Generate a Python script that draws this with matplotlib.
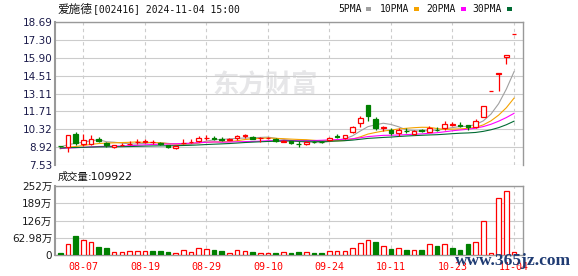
import matplotlib
matplotlib.use('Agg')
import matplotlib.pyplot as plt
import numpy as np
from matplotlib.patches import Rectangle

# ---------------- data ----------------
dates_ticks = ['08-07', '08-19', '08-29', '09-10', '09-24', '10-11', '10-23', '11-04']
date_tick_idx = [3, 11, 19, 27, 35, 43, 51, 59]

prior_closes = [8.95, 8.98, 9.02, 8.96, 8.90, 8.93, 8.97, 8.92, 8.88, 8.85,
                8.90, 8.94, 8.86, 8.80, 8.78, 8.82, 8.85, 8.80, 8.76, 8.72,
                8.70, 8.74, 8.68, 8.65, 8.70, 8.78, 8.84, 8.92, 9.03]

opens = [9.02, 8.93, 9.95, 9.14, 9.14, 9.53, 9.25, 8.95, 9.10, 9.17,
         9.30, 9.30, 9.29, 9.27, 9.09, 8.83, 9.25, 9.33, 9.43, 9.64,
         9.64, 9.56, 9.50, 9.64, 9.82, 9.74, 9.60, 9.63, 9.56, 9.36,
         9.38, 9.20, 9.14, 9.36, 9.35, 9.45, 9.76, 9.61, 10.08, 10.78,
         12.21, 11.10, 10.44, 10.30, 10.00, 10.18, 9.95, 10.24, 10.13, 10.28,
         10.39, 10.68, 10.66, 10.63, 10.47, 11.30, 13.34, 14.67, 15.92, 17.75]
closes = [8.98, 9.87, 9.27, 9.46, 9.53, 9.38, 9.08, 9.10, 9.12, 9.20,
          9.33, 9.40, 9.31, 9.14, 8.91, 9.04, 9.28, 9.36, 9.63, 9.67,
          9.54, 9.46, 9.53, 9.82, 9.84, 9.59, 9.63, 9.65, 9.38, 9.40,
          9.21, 9.18, 9.35, 9.33, 9.30, 9.66, 9.72, 9.87, 10.47, 11.17,
          11.38, 10.45, 10.47, 10.00, 10.26, 10.15, 10.20, 10.19, 10.39, 10.25,
          10.72, 10.70, 10.60, 10.47, 10.96, 12.13, 13.34, 14.67, 16.14, 17.75]
highs = [9.05, 9.90, 10.10, 9.95, 9.89, 9.71, 9.35, 9.12, 9.22, 9.40,
         9.56, 9.56, 9.48, 9.35, 9.12, 9.10, 9.53, 9.53, 9.79, 9.87,
         9.79, 9.69, 9.60, 9.89, 9.97, 9.76, 9.74, 9.72, 9.66, 9.48,
         9.42, 9.40, 9.38, 9.42, 9.40, 9.70, 9.92, 9.90, 10.55, 11.38,
         12.25, 11.30, 10.55, 10.44, 10.39, 10.40, 10.25, 10.35, 10.58, 10.47,
         10.96, 10.86, 10.86, 10.66, 11.09, 12.13, 13.34, 14.67, 16.14, 17.75]
lows = [8.95, 8.55, 9.09, 9.04, 9.07, 9.32, 8.93, 8.86, 9.00, 9.07,
        9.19, 9.25, 9.17, 9.10, 8.85, 8.80, 9.14, 9.22, 9.32, 9.48,
        9.48, 9.43, 9.45, 9.48, 9.66, 9.56, 9.35, 9.55, 9.32, 9.30,
        9.15, 8.91, 9.10, 9.28, 9.25, 9.42, 9.61, 9.58, 10.00, 10.52,
        10.96, 10.26, 10.20, 9.87, 9.82, 10.05, 9.85, 10.10, 10.08, 10.16,
        10.26, 10.58, 10.52, 10.26, 10.45, 11.30, 13.34, 13.34, 15.38, 17.75]
volumes_wan = [8, 39, 69, 54, 46, 28, 24, 12, 12, 16,
               16, 16, 13, 13, 10, 9, 20, 12, 26, 23,
               20, 13, 6, 20, 16, 10, 9, 6, 6, 10,
               7, 11, 10, 7, 7, 15, 15, 15, 24, 44,
               55, 49, 32, 22, 24, 18, 18, 18, 39, 33,
               39, 27, 18, 40, 47, 124, 7, 210, 234, 10.99]

price_ticks = [7.53, 8.92, 10.32, 11.71, 13.11, 14.51, 15.90, 17.30, 18.69]
price_labels = ['7.53', '8.92', '10.32', '11.71', '13.11', '14.51', '15.90', '17.30', '18.69']
vol_ticks = [0, 62.98, 126, 189, 252]
vol_labels = ['0', '62.98万', '126万', '189万', '252万']

ma_periods = [5, 10, 20, 30]
ma_names = ['5PMA', '10PMA', '20PMA', '30PMA']
ma_colors = ['#a0a0a0', '#f5a300', '#ff00ff', '#006b33']

title_name = '爱施德'
title_rest = '[002416] 2024-11-04 15:00'
vol_title = '成交量'
vol_value = ':109922'

# ---------------- figure ----------------
W, H = 578, 276
fig = plt.figure(figsize=(W / 100, H / 100), dpi=100)
fig.patch.set_facecolor('white')


def fx(x):
    return x / W


def fy(y):
    return 1 - y / H


L, R = 55, 522.7
ax = fig.add_axes([fx(L), fy(165), fx(R) - fx(L), fy(22) - fy(165)])
axv = fig.add_axes([fx(L), fy(255), fx(R) - fx(L), fy(186) - fy(255)])

n = len(closes)
x = np.arange(n)
o = np.array(opens)
c = np.array(closes)
hi = np.array(highs)
lo = np.array(lows)
RED = '#ff0000'
GREEN = '#008000'
up = c >= o
cols = [RED if u else GREEN for u in up]
faces = ['white' if u else GREEN for u in up]

xlim = (-0.69, 60.13)
for a in (ax, axv):
    a.set_xlim(*xlim)
    for t in date_tick_idx:
        a.axvline(t, color='#cccccc', lw=0.8, ls=(0, (3, 3)), zorder=1)

# watermark
ax.text(fx(265), fy(85), '东方财富', transform=fig.transFigure, ha='center', va='center',
        fontsize=19, fontweight='bold', color='#e6e6e8', family=['Noto Sans CJK SC'],
        zorder=0)

# price panel
ax.set_ylim(7.53, 18.69)
ax.set_yticks(price_ticks)
ax.set_yticklabels(price_labels)
ax.grid(axis='y', color='#cccccc', lw=0.8, zorder=1)
ax.set_axisbelow(True)
ax.set_xticks([])
ax.tick_params(axis='y', length=0, pad=2, labelsize=7.5, labelcolor='#1a1a4a')
for s in ['left', 'top', 'right']:
    ax.spines[s].set_color('#999999')
ax.spines['left'].set_linewidth(1.5)
ax.spines['top'].set_linewidth(1.0)
ax.spines['right'].set_linewidth(1.0)
ax.spines['bottom'].set_visible(False)

# moving averages
all_c = np.array(prior_closes + closes)
off = len(prior_closes)
for p, col in zip(ma_periods, ma_colors):
    ma = [all_c[off + i - p + 1: off + i + 1].mean() for i in range(n)]
    ax.plot(x, ma, color=col, lw=0.8, zorder=2)

# candles
ax.vlines(x, lo, hi, colors=cols, lw=0.9, zorder=3)
bottoms = np.minimum(o, c)
heights = np.maximum(np.abs(c - o), 0.001)
ax.bar(x, heights, bottom=bottoms, width=0.6, color=faces, edgecolor=cols, lw=0.9, zorder=4)

# volume panel
vol = np.array(volumes_wan)
prev = np.concatenate([[prior_closes[-1]], c[:-1]])
vup = c >= prev
vcols = [RED if u else GREEN for u in vup]
vfaces = ['white' if u else GREEN for u in vup]
axv.bar(x, vol, width=0.6, color=vfaces, edgecolor=vcols, lw=0.9, zorder=3)
axv.set_ylim(0, 252)
axv.set_yticks(vol_ticks)
axv.set_yticklabels(vol_labels, family=['DejaVu Sans', 'Noto Sans CJK SC'])
axv.grid(axis='y', color='#cccccc', lw=0.8, zorder=1)
axv.set_axisbelow(True)
axv.tick_params(axis='y', length=0, pad=2, labelsize=7.5, labelcolor='#1a1a1a')
axv.set_xticks(date_tick_idx)
axv.set_xticklabels(dates_ticks, family='DejaVu Sans Mono')
axv.tick_params(axis='x', length=0, pad=5, labelsize=7.2, labelcolor=RED)
for s in axv.spines.values():
    s.set_color('#999999')
    s.set_linewidth(1.0)
axv.spines['left'].set_linewidth(1.5)

# titles
fig.text(fx(57), fy(9), title_name, ha='left', va='center', fontsize=8.4,
         family=['Noto Sans CJK SC'], color='#111111')
fig.text(fx(93), fy(9), title_rest, ha='left', va='center', fontsize=7.0,
         family='DejaVu Sans Mono', color='#111111')
fig.text(fx(58), fy(177), vol_title, ha='left', va='center', fontsize=7.4,
         family=['Noto Sans CJK SC'], color='#111111')
fig.text(fx(88), fy(177), vol_value, ha='left', va='center', fontsize=7.8,
         family='DejaVu Sans', color='#111111')

# legend
leg_x = [338, 380, 426, 472]
sq_x = [366, 414, 461, 507]
for name, col, lx, sx in zip(ma_names, ma_colors, leg_x, sq_x):
    fig.text(fx(lx), fy(9), name, ha='left', va='center', fontsize=7.0,
             family='DejaVu Sans Mono', color='#111111')
    fig.patches.append(Rectangle((fx(sx), fy(10.5)), 5 / W, 3 / H, transform=fig.transFigure,
                                 facecolor=col, edgecolor='none'))

# site watermark
fig.text(fx(455), fy(261), 'www.365jz.com', ha='left', va='center', fontsize=12.5,
         family='Liberation Serif', fontweight='bold', color='#1f3b73')

fig.savefig('out.png', dpi=100)
